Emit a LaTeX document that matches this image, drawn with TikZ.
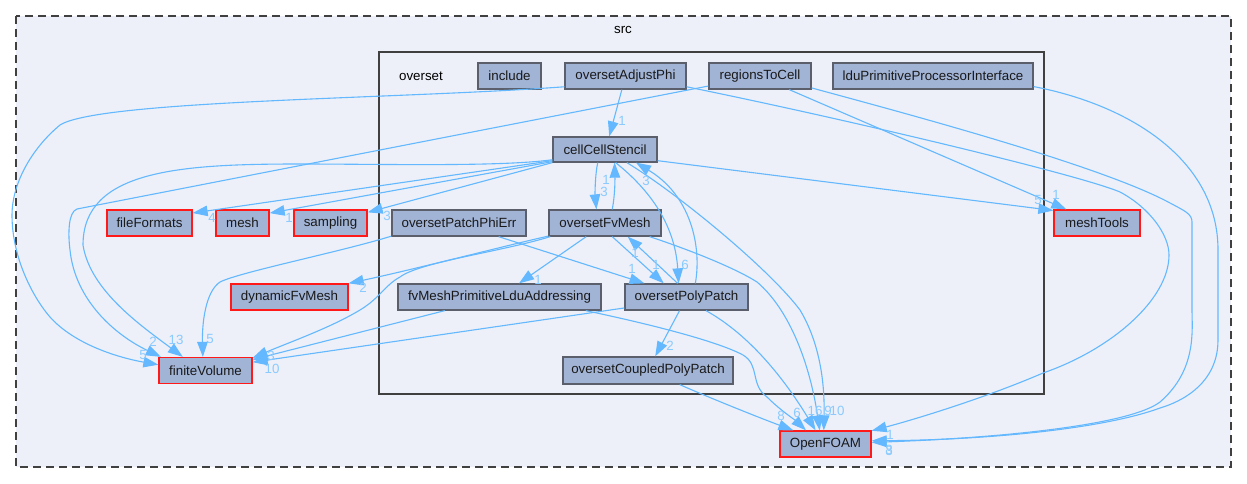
\documentclass[tikz,border=0pt]{standalone}
\usepackage{fontspec}
\setmainfont{Liberation Sans}
\usetikzlibrary{arrows.meta}
\definecolor{edgeblue}{HTML}{63B8FF}
\definecolor{dirfill}{HTML}{A2B4D6}
\definecolor{clusterfill}{HTML}{EDF0F8}
\definecolor{framegray}{HTML}{404040}
\definecolor{dirgray}{HTML}{5A5F6B}
\tikzset{
 dirnode/.style={draw=dirgray,fill=dirfill,line width=1.3pt,inner sep=0pt,minimum height=26pt,
   font=\fontsize{13.33}{16}\selectfont,text=black!90},
 extnode/.style={dirnode,draw=red!90!white},
 dep/.style={draw=edgeblue,line width=1.1pt,-{Triangle[length=15pt,width=10.5pt]}},
 cnt/.style={text=edgeblue!75!white,inner sep=0pt,font=\fontsize{13.33}{16}\selectfont},
 title/.style={inner sep=0pt,font=\fontsize{13.33}{16}\selectfont}
}
\begin{document}
\begin{tikzpicture}[x=1pt,y=-1pt]
\useasboundingbox (0,0) rectangle (1247,484);

\draw[framegray,fill=clusterfill,line width=1.2pt,dash pattern=on 8pt off 5pt] (16,16) rectangle (1231,467);
\draw[framegray,fill=clusterfill,line width=2.7pt] (379,52) rectangle (1044,394);
\node[title] (srcname) at (623,30) {src};
\node[title] (oversetname) at (421,76) {overset};

\node[extnode,minimum width=93pt] (finite) at (205.5,370.5) {finiteVolume};
\node[extnode,minimum width=85pt] (files) at (149.5,223) {fileFormats};
\node[extnode,minimum width=53pt] (mesh) at (242.5,223) {mesh};
\node[extnode,minimum width=73pt] (sampling) at (330.5,223) {sampling};
\node[extnode,minimum width=117pt] (dyn) at (289.5,297) {dynamicFvMesh};
\node[extnode,minimum width=86pt] (tools) at (1097,223) {meshTools};
\node[extnode,minimum width=91pt] (foam) at (825.5,444) {OpenFOAM};
\node[dirnode,minimum width=63pt] (incl) at (509.5,76) {include};
\node[dirnode,minimum width=121pt] (adjust) at (625.5,76) {oversetAdjustPhi};
\node[dirnode,minimum width=102pt] (regions) at (760,76) {regionsToCell};
\node[dirnode,minimum width=200pt] (ldu) at (933,76) {lduPrimitiveProcessorInterface};
\node[dirnode,minimum width=104pt,minimum height=25pt] (cell) at (605,149.5) {cellCellStencil};
\node[dirnode,minimum width=134pt] (phierr) at (459,223) {oversetPatchPhiErr};
\node[dirnode,minimum width=112pt] (fvm) at (605,223) {oversetFvMesh};
\node[dirnode,minimum width=203pt] (prim) at (499.5,297) {fvMeshPrimitiveLduAddressing};
\node[dirnode,minimum width=123pt] (poly) at (686.5,297) {oversetPolyPatch};
\node[dirnode,minimum width=170pt,minimum height=27pt] (coupled) at (648,370.5) {oversetCoupledPolyPatch};

% into finiteVolume
\draw[dep] (adjust.190) .. controls (400,99) and (100,100) .. (60,125)
  .. controls (30,150) and (12,185) .. (12,215)
  .. controls (12,260) and (35,300) .. (50,317)
  .. controls (75,345) and (120,358) .. (finite.173);
\draw[dep] (regions.191) -- (77,209) .. controls (68,212) and (68,235) .. (70,250)
  .. controls (75,300) and (115,335) .. (finite.163);
\draw[dep] (cell.191) .. controls (500,167) and (380,164) .. (300,164)
  .. controls (180,164) and (83,170) .. (83,245)
  .. controls (90,290) and (140,325) .. (finite.149);
\draw[dep] (phierr.191.5) .. controls (340,252) and (240,272) .. (220,282)
  .. controls (205,292) and (202,325) .. (finite.101);
\draw[dep] (fvm.194) .. controls (500,252) and (420,262) .. (400,277)
  .. controls (385,285) and (380,298) .. (360,310)
  .. controls (330,328) and (290,342) .. (finite.15);
\draw[dep] (prim.194) -- (finite.13);
\draw[dep] (poly.190) -- (finite.10);

% out of cellCellStencil
\draw[dep] (cell.192.5) -- (files.13);
\draw[dep] (cell.193.5) -- (mesh.20);
\draw[dep] (cell.194.6) -- (sampling.16);
\draw[dep] (cell.-12.5) -- (tools.164.7);
\draw[dep] (cell.241) .. controls (595,175) and (595,195) .. (fvm.122);
\draw[dep] (cell.-51) .. controls (650,190) and (675,225) .. (poly.120);
\draw[dep] (cell.-31) .. controls (680,195) and (770,270) .. (800,310)
  .. controls (815,335) and (825,370) .. (foam.97);

% top row
\draw[dep] (adjust.255) -- (cell.72);
\draw[dep] (regions.-25) -- (tools.156.6);
\draw[dep] (adjust.-10) .. controls (850,120) and (1080,175) .. (1120,192)
  .. controls (1150,208) and (1169,235) .. (1169,255)
  .. controls (1169,300) and (1110,350) .. (1043,373)
  .. controls (990,396) and (920,418) .. (foam.16);
\draw[dep] (regions.-13) .. controls (900,112) and (1100,165) .. (1170,203)
  .. controls (1185,211) and (1192,214) .. (1192,222) -- (1192,310)
  .. controls (1192,330) and (1197,370) .. (1160,402)
  .. controls (1130,425) and (1000,438) .. (foam.2);
\draw[dep] (ldu.-6) .. controls (1130,105) and (1218,160) .. (1218,250) -- (1218,340)
  .. controls (1218,390) and (1170,405) .. (1160,408)
  .. controls (1100,430) and (980,440) .. (foam.4);

% middle rows
\draw[dep] (fvm.193.3) .. controls (500,247) and (420,268) .. (dyn.13.4);
\draw[dep] (fvm.62) .. controls (615,195) and (615,180) .. (cell.-54);
\draw[dep] (fvm.216) -- (prim.35);
\draw[dep] (fvm.-62) -- (poly.149);
\draw[dep] (fvm.-17) .. controls (690,250) and (735,268) .. (757,282)
  .. controls (790,310) and (810,365) .. (foam.113);
\draw[dep] (phierr.-19) -- (poly.162);
\draw[dep] (poly.123) -- (fvm.-31);
\draw[dep] (poly.57) .. controls (702,245) and (690,195) .. (cell.-23);
\draw[dep] (poly.243) -- (coupled.63);
\draw[dep] (poly.-35) .. controls (750,335) and (785,380) .. (foam.126);
\draw[dep] (prim.-9) .. controls (640,322) and (715,340) .. (743,355)
  .. controls (760,365) and (750,385) .. (767,397)
  .. controls (780,410) and (795,420) .. (foam.145);
\draw[dep] (coupled.-24) .. controls (710,398) and (760,418) .. (foam.157);

\foreach \x/\y/\t [count=\i] in {143/355/5,153/342/2,176/340/13,210/339/5,212/218/4,289/218/1,387/216/3,
  363/288/2,271/356/3,272/369/10,622/121/1,604/192/3,606/180/1,646/181/3,685/265/6,656/265/1,635/253/1,
  632/269/1,538/280/1,670/346/2,1038/200/5,1056/195/1,781/416/8,797/413/6,815/411/16,828/411/9,837/411/10,
  890/435/1,889/450/8,889/451/3}
 \node[cnt] (cnt\i) at (\x,\y) {\t};
\end{tikzpicture}
\end{document}
